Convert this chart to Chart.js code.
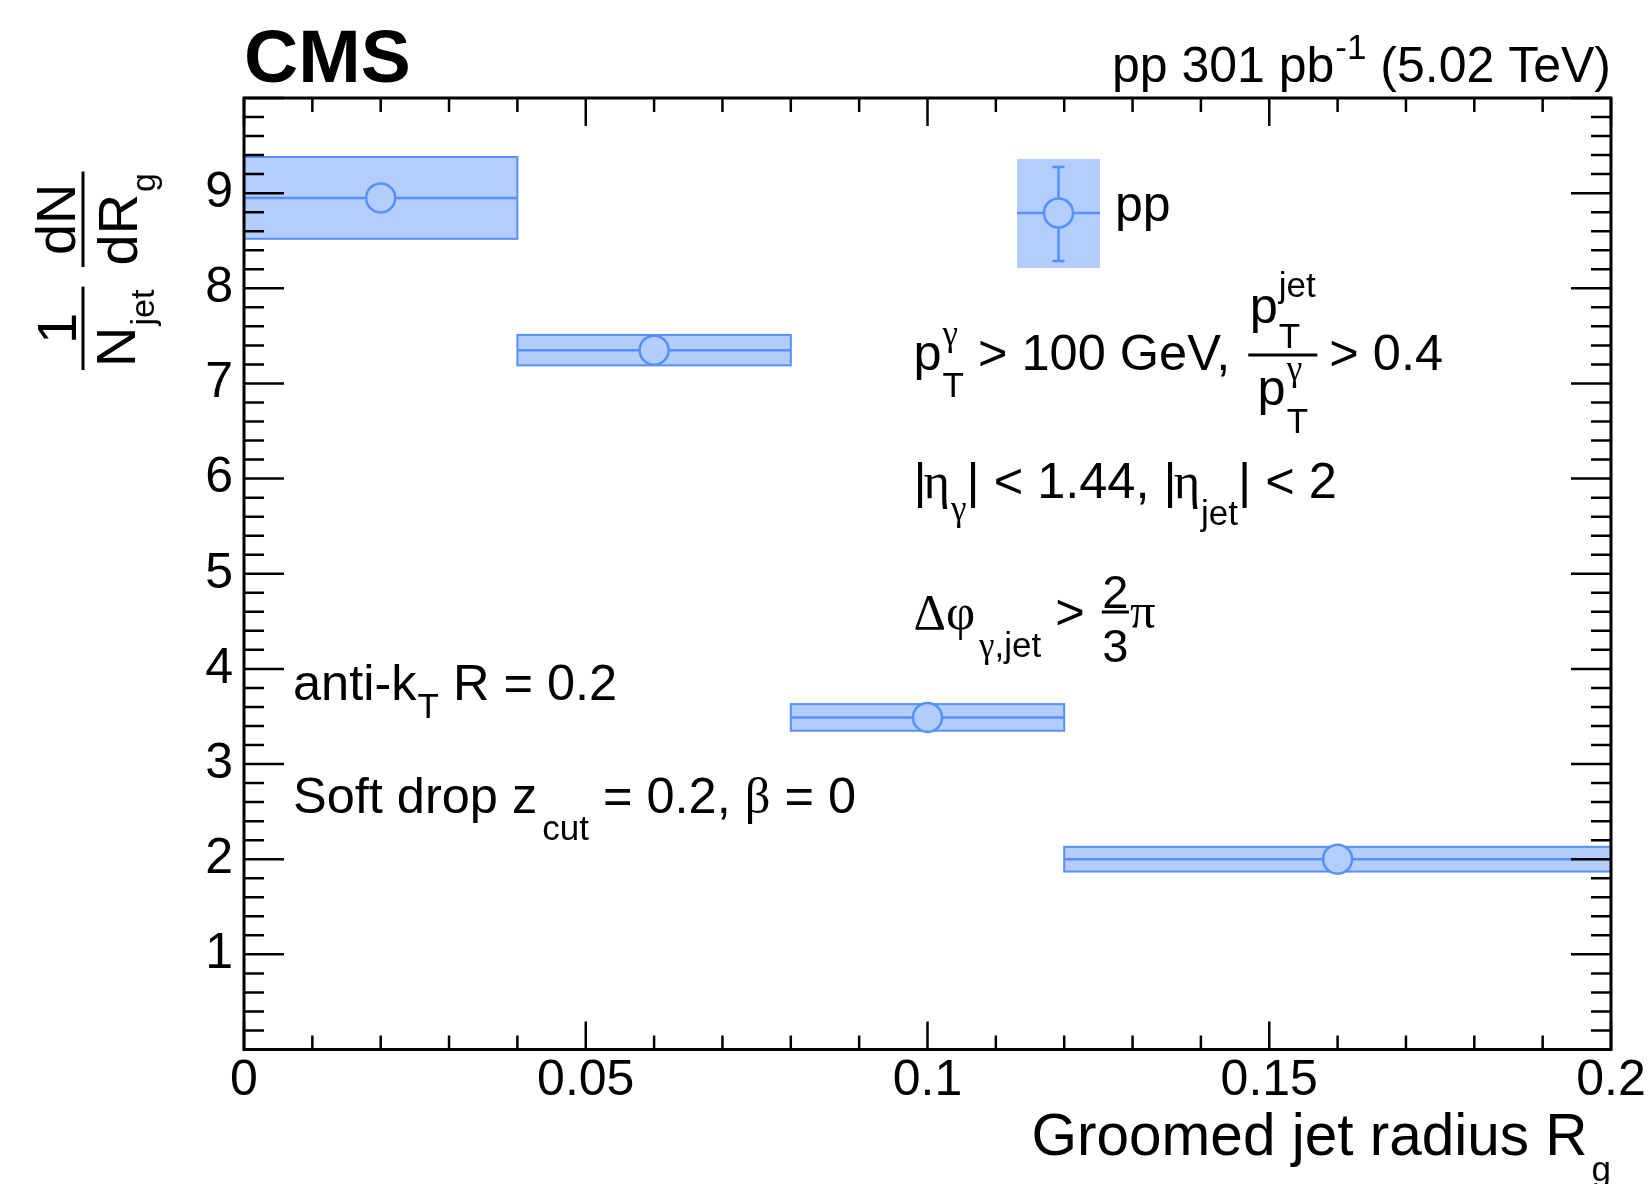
<!DOCTYPE html>
<html>
<head>
<meta charset="utf-8">
<script src="https://cdn.jsdelivr.net/npm/chart.js@4.4.1/dist/chart.umd.min.js"></script>
<style>html,body{margin:0;padding:0;background:#fff;}canvas{display:block;}</style>
</head>
<body>
<canvas id="c" width="1650" height="1184" style="width:1650px;height:1184px"></canvas>
<script>
// ---------------- data ----------------
const binLow    = [0.00, 0.04, 0.08, 0.12];
const binHigh   = [0.04, 0.08, 0.12, 0.20];
const binCenter = [0.02, 0.06, 0.10, 0.16];
const values    = [8.95, 7.35, 3.49, 2.00];
const systErr   = [0.43, 0.16, 0.14, 0.13];
const xTickValues = [0, 0.05, 0.1, 0.15, 0.2];
const xTickLabels = ['0', '0.05', '0.1', '0.15', '0.2'];
const yTickValues = [1, 2, 3, 4, 5, 6, 7, 8, 9];
const yTickLabels = ['1', '2', '3', '4', '5', '6', '7', '8', '9'];

// ---------------- style ----------------
const SANS = "'Liberation Sans', Arial, Helvetica, sans-serif";
const SERIF = "'Liberation Serif', 'Times New Roman', serif";
const LINE = '#5790fc';
const FILL = '#b3cdfd';
const MAIN = 50.5, SCR = 35;

function fnt(size, serif, bold) { return (bold ? 'bold ' : '') + size + 'px ' + (serif ? SERIF : SANS); }

function run(ctx, x, y, items, draw = true) {
  for (const it of items) {
    if (it.dx) x += it.dx;
    if (it.stack) {
      let w = 0;
      for (const s of it.stack) {
        ctx.font = fnt(s.size || MAIN, s.serif, s.bold);
        if (draw) ctx.fillText(s.t, x, y + (s.dy || 0));
        w = Math.max(w, ctx.measureText(s.t).width);
      }
      x += w;
    } else if (it.t !== undefined) {
      ctx.font = fnt(it.size || MAIN, it.serif, it.bold);
      if (draw) ctx.fillText(it.t, x, y + (it.dy || 0));
      x += ctx.measureText(it.t).width;
    }
  }
  return x;
}
function runW(ctx, items) { return run(ctx, 0, 0, items, false); }

function frac(ctx, x, yBar, num, numOff, den, denOff, extra, lw) {
  const wn = runW(ctx, num), wd = runW(ctx, den);
  const w = Math.max(wn, wd) + extra;
  ctx.fillRect(x, yBar - lw / 2, w, lw);
  run(ctx, x + (w - wn) / 2, yBar + numOff, num);
  run(ctx, x + (w - wd) / 2, yBar + denOff, den);
  return x + w;
}

const rootPlugin = {
  id: 'rootStyle',
  beforeDatasetsDraw(chart) {
    const ctx = chart.ctx, xs = chart.scales.x, ys = chart.scales.y;
    ctx.save();
    for (let i = 0; i < values.length; i++) {
      const x0 = xs.getPixelForValue(binLow[i]);
      const x1 = xs.getPixelForValue(binHigh[i]);
      const yt = ys.getPixelForValue(values[i] + systErr[i]);
      const yb = ys.getPixelForValue(values[i] - systErr[i]);
      const yc = ys.getPixelForValue(values[i]);
      ctx.fillStyle = FILL;
      ctx.fillRect(x0, yt, x1 - x0, yb - yt);
      ctx.strokeStyle = LINE;
      ctx.lineWidth = 2;
      ctx.strokeRect(x0, yt, x1 - x0, yb - yt);
      ctx.lineWidth = 2.5;
      ctx.beginPath(); ctx.moveTo(x0, yc); ctx.lineTo(x1, yc); ctx.stroke();
    }
    ctx.restore();
  },
  afterDatasetsDraw(chart) {
    const ctx = chart.ctx, xs = chart.scales.x, ys = chart.scales.y;
    const { left, right, top, bottom } = chart.chartArea;
    ctx.save();
    ctx.strokeStyle = '#000';
    ctx.lineWidth = 2.5;
    ctx.beginPath();
    for (let k = 0; k <= 20; k++) {
      const px = xs.getPixelForValue(k * 0.01);
      const L = (k % 5 === 0) ? 28 : 14;
      ctx.moveTo(px, bottom); ctx.lineTo(px, bottom - L);
      ctx.moveTo(px, top); ctx.lineTo(px, top + L);
    }
    for (let k = 0; k <= 50; k++) {
      const py = ys.getPixelForValue(k * 0.2);
      const L = (k % 5 === 0) ? 40 : 20;
      ctx.moveTo(left, py); ctx.lineTo(left + L, py);
      ctx.moveTo(right, py); ctx.lineTo(right - L, py);
    }
    ctx.stroke();
    ctx.lineWidth = 3;
    ctx.strokeRect(left, top, right - left, bottom - top);
    ctx.restore();
  },
  afterDraw(chart) {
    const ctx = chart.ctx;
    const { right } = chart.chartArea;
    ctx.save();
    ctx.fillStyle = '#000';
    ctx.textBaseline = 'alphabetic';
    ctx.textAlign = 'left';

    // CMS
    ctx.font = fnt(75, false, true);
    ctx.fillText('CMS', 244, 82);

    // lumi
    const lumi = [{ t: 'pp 301 pb', size: 50 }, { t: '-1', size: 35, dy: -23, dx: 1 }, { t: ' (5.02 TeV)', size: 50 }];
    run(ctx, right - runW(ctx, lumi), 82, lumi);

    // legend
    const lx0 = 1017, lx1 = 1100, ly0 = 159, ly1 = 268, lxc = 1058.5, lyc = 213;
    ctx.fillStyle = FILL;
    ctx.fillRect(lx0, ly0, lx1 - lx0, ly1 - ly0);
    ctx.strokeStyle = LINE;
    ctx.lineWidth = 2.5;
    ctx.beginPath();
    ctx.moveTo(lx0, lyc); ctx.lineTo(lx1, lyc);
    ctx.moveTo(lxc, 167); ctx.lineTo(lxc, 261);
    ctx.moveTo(lxc - 6, 167); ctx.lineTo(lxc + 6, 167);
    ctx.moveTo(lxc - 6, 261); ctx.lineTo(lxc + 6, 261);
    ctx.stroke();
    ctx.beginPath(); ctx.arc(lxc, lyc, 14.5, 0, Math.PI * 2);
    ctx.fillStyle = FILL; ctx.fill(); ctx.stroke();
    ctx.fillStyle = '#000';
    run(ctx, 1115, 221, [{ t: 'pp', size: 50 }]);

    // left annotations
    run(ctx, 293, 700, [{ t: 'anti-k' }, { t: 'T', size: SCR, dy: 18, dx: 1 }, { t: ' R = 0.2' }]);
    run(ctx, 293, 813, [{ t: 'Soft drop z' }, { t: 'cut', size: SCR, dy: 27, dx: 5 }, { t: ' = 0.2, ' }, { t: 'β', serif: true }, { t: ' = 0' }]);

    // right annotations
    const X0 = 913.5;
    let x = run(ctx, X0, 370, [
      { t: 'p' },
      { stack: [{ t: 'γ', size: SCR, serif: true, dy: -25 }, { t: 'T', size: SCR, dy: 27 }], dx: 1 },
      { t: ' > 100 GeV,' }
    ]);
    x = frac(ctx, x + 18, 355,
      [{ t: 'p' }, { stack: [{ t: 'jet', size: SCR, dy: -26 }, { t: 'T', size: SCR, dy: 25 }], dx: 1 }], -32,
      [{ t: 'p' }, { stack: [{ t: 'γ', size: SCR, serif: true, dy: -25 }, { t: 'T', size: SCR, dy: 28 }], dx: 1 }], 50,
      3, 3);
    run(ctx, x + 12, 370, [{ t: '> 0.4' }]);

    run(ctx, X0, 498, [
      { t: '|' }, { t: 'η', serif: true, dx: -3 }, { t: 'γ', size: SCR, serif: true, dy: 22, dx: 1 },
      { t: '| < 1.44, |' }, { t: 'η', serif: true, dx: -3 }, { t: 'jet', size: SCR, dy: 27, dx: 1 }, { t: '| < 2' }
    ]);

    x = run(ctx, X0, 629, [
      { t: 'Δ', serif: true }, { t: 'φ', serif: true }, { t: 'γ', size: SCR, serif: true, dy: 28, dx: 4 },
      { t: ',jet', size: SCR, dy: 28 }, { t: ' >' }
    ]);
    x = frac(ctx, x + 17, 612, [{ t: '2', size: 47 }], -4, [{ t: '3', size: 47 }], 50, 1, 3);
    run(ctx, x + 1, 628, [{ t: 'π', serif: true }]);

    // x title
    const XT = 58.5;
    ctx.font = fnt(XT);
    const xt = 'Groomed jet radius R';
    const wxt = ctx.measureText(xt).width;
    ctx.font = fnt(SCR);
    const wg = ctx.measureText('g').width;
    const xStart = right - (wxt + 4 + wg);
    run(ctx, xStart, 1155, [{ t: xt, size: XT }, { t: 'g', size: SCR, dy: 26, dx: 4 }]);

    // y title (rotated)
    ctx.translate(83, 400);
    ctx.rotate(-Math.PI / 2);
    const YT = 56, YS = 34;
    // 1 / N_jet
    {
      const num = [{ t: '1', size: YT }];
      const den = [{ t: 'N', size: YT }, { t: 'jet', size: YS, dy: 19, dx: 1 }];
      const wn = runW(ctx, num), wd = runW(ctx, den);
      const w = Math.max(wn, wd) + 6;
      const u0 = 30;
      ctx.fillRect(u0, -1.5, w, 3);
      run(ctx, u0 + (w - wn) / 2, -7, num);
      run(ctx, u0 + (w - wd) / 2, 52, den);
    }
    // dN / dR_g
    {
      const num = [{ t: 'dN', size: YT }];
      const den = [{ t: 'dR', size: YT }, { t: 'g', size: YS, dy: 18, dx: 2 }];
      const wn = runW(ctx, num), wd = runW(ctx, den);
      const w = Math.max(wn, wd) + 3;
      const u0 = 133;
      ctx.fillRect(u0, -1.5, w, 3);
      run(ctx, u0 + (w - wn) / 2, -8, num);
      run(ctx, u0 + (w - wd) / 2, 54, den);
    }
    ctx.restore();
  }
};

new Chart(document.getElementById('c'), {
  type: 'scatter',
  data: {
    datasets: [{
      label: 'pp',
      data: binCenter.map((x, i) => ({ x: x, y: values[i] })),
      pointRadius: 14.5,
      pointHoverRadius: 14.5,
      pointBackgroundColor: FILL,
      pointBorderColor: LINE,
      pointBorderWidth: 2.5,
      pointHoverBorderWidth: 2.5,
      showLine: false
    }]
  },
  options: {
    responsive: false,
    animation: false,
    devicePixelRatio: 1,
    events: [],
    layout: { padding: { top: 98, right: 39, left: 0, bottom: 0 } },
    plugins: { legend: { display: false }, tooltip: { enabled: false } },
    scales: {
      x: {
        type: 'linear', min: 0, max: 0.2, position: 'bottom',
        afterBuildTicks: s => { s.ticks = xTickValues.map(v => ({ value: v })); },
        afterFit: s => { s.height = 134.5; },
        grid: { display: false, drawTicks: false },
        border: { display: false },
        ticks: {
          callback: (v, i) => xTickLabels[i],
          font: { family: SANS, size: 50 }, color: '#000',
          padding: 2, maxRotation: 0, autoSkip: false
        }
      },
      y: {
        type: 'linear', min: 0, max: 10, position: 'left',
        afterBuildTicks: s => { s.ticks = yTickValues.map(v => ({ value: v })); },
        afterFit: s => { s.width = 244; },
        grid: { display: false, drawTicks: false },
        border: { display: false },
        ticks: {
          callback: (v, i) => yTickLabels[i],
          font: { family: SANS, size: 50 }, color: '#000',
          padding: 11, autoSkip: false
        }
      }
    }
  },
  plugins: [rootPlugin]
});
</script>
</body>
</html>
